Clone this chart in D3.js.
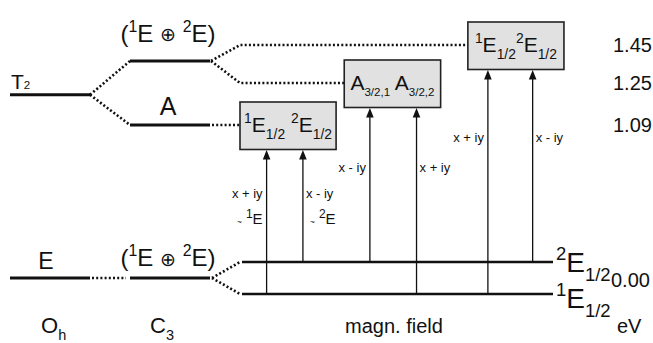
<!DOCTYPE html>
<html><head><meta charset="utf-8">
<script src="https://cdn.jsdelivr.net/npm/d3@7"></script>
<style>body{margin:0;background:#fff}svg{display:block}text{font-family:"Liberation Sans",Arial,sans-serif;fill:#111}</style>
</head><body><svg id="c" width="653" height="343"></svg>
<script>
// ---- data ----
const energyTicks = [1.45, 1.25, 1.09, 0.00];
const energyTickLabels = ["1.45", "1.25", "1.09", "0.00"];
const columns = ["Oh", "C3", "field"];
const columnLabels = [["O","h"], ["C","3"], ["magn. field",""]];
// levels: schematic energy (eV)
const ohLevels = [{name:"T2", e:1.205}, {name:"E", e:0.0}];
const c3Levels = [{name:"upper", e:1.366}, {name:"A", e:1.09}, {name:"E", e:0.0}];
const fieldLevelNames = ["2E1/2", "1E1/2"];
const fieldLevelEnergies = [0.1, -0.1];   // schematic Zeeman splitting
const boxEnergies = [1.09, 1.25, 1.45];
const boxLeft = [0.0, 0.333, 0.728];      // field units
const boxRight = [0.307, 0.641, 1.035];
const boxLabels = [
  [["1","sup"],["E"],["1/2","sub"],[" "],["2","sup"],["E"],["1/2","sub"]],
  [["A"],["3/2,1","sub2"],[" "],["A"],["3/2,2","sub2"]],
  [["1","sup"],["E"],["1/2","sub"],["2","sup"],["E"],["1/2","sub"]]
];
// transitions
const arrowPos = [0.085, 0.201, 0.415, 0.564, 0.792, 0.935];
const arrowFrom = [1, 0, 0, 1, 1, 0];
const arrowTo = [0, 0, 1, 1, 2, 2];
const arrowLabel = ["x + iy", "x - iy", "x - iy", "x + iy", "x + iy", "x - iy"];
const arrowSide = ["left", "right", "left", "right", "left", "right"];
const arrowLabelE = [0.56, 0.56, 0.75, 0.75, 0.967, 0.967];
const arrowExtra = ["1", "2", null, null, null, null];

// ---- scales ----
const svg = d3.select("#c");
const y = d3.scaleLinear().domain([-0.1, 0, 0.1, 1.09, 1.25, 1.45]).range([294, 278, 262, 125, 83, 45]);
const colX = d3.scaleOrdinal().domain(columns).range([[10, 90], [130, 210], [240, 553]]);
const fx = d3.scaleLinear().domain([0, 1]).range([240, 553]);

function rich(g, x, yy, parts, size, anchor) {
  const t = g.append("text").attr("x", x).attr("y", yy).attr("font-size", size).attr("text-anchor", anchor || "start");
  let off = 0;
  parts.forEach(p => {
    const k = p[1] || "n";
    let target = 0, fs = size;
    if (k === "sup") { target = -0.42 * size; fs = 0.66 * size; }
    if (k === "sup2") { target = -0.4 * size; fs = 0.8 * size; }
    if (k === "sub") { target = 0.32 * size; fs = 0.66 * size; }
    if (k === "sub2") { target = 0.3 * size; fs = 0.55 * size; }
    if (k === "base") { target = 0; fs = 0.55 * size; }
    if (k === "tilde") { target = 0.02 * size; fs = 0.55 * size; }
    if (k === "op") { target = -0.02 * size; fs = 0.8 * size; }
    t.append("tspan").attr("dy", target - off).attr("font-size", fs).text(p[0]);
    off = target;
  });
  return t;
}

const dotted = {stroke: "#111", "stroke-width": 2.6, "stroke-dasharray": "2,2.2", fill: "none"};
function dline(pts) {
  const p = svg.append("path").attr("d", d3.line()(pts));
  Object.entries(dotted).forEach(([k, v]) => p.attr(k, v));
}

// solid levels
const [ohA, ohB] = colX("Oh"), [c3A, c3B] = colX("C3"), [fA, fB] = colX("field");
ohLevels.forEach(l => svg.append("line").attr("x1", ohA).attr("x2", ohB).attr("y1", y(l.e)).attr("y2", y(l.e)).attr("stroke", "#111").attr("stroke-width", 3));
c3Levels.forEach(l => svg.append("line").attr("x1", c3A).attr("x2", c3B).attr("y1", y(l.e)).attr("y2", y(l.e)).attr("stroke", "#111").attr("stroke-width", 3));
fieldLevelEnergies.forEach(e => svg.append("line").attr("x1", fA + 2).attr("x2", fB).attr("y1", y(e)).attr("y2", y(e)).attr("stroke", "#111").attr("stroke-width", 2.6));

// dotted correlation lines
dline([[ohB, y(ohLevels[0].e)], [c3A, y(c3Levels[0].e)]]);
dline([[ohB, y(ohLevels[0].e)], [c3A, y(c3Levels[1].e)]]);
dline([[ohB + 2, y(0)], [c3A - 4, y(0)]]);
dline([[c3B + 1, y(c3Levels[0].e)], [fA, y(1.45)], [fx(boxLeft[2]), y(1.45)]]);
dline([[c3B + 1, y(c3Levels[0].e)], [fA, y(1.25)], [fx(boxLeft[1]), y(1.25)]]);
dline([[c3B + 2, y(c3Levels[1].e)], [fx(boxLeft[0]), y(1.09)]]);
dline([[c3B + 2, y(0)], [fA, y(fieldLevelEnergies[0])]]);
dline([[c3B + 2, y(0)], [fA, y(fieldLevelEnergies[1])]]);

// boxes
const boxTop = e => y(e) - 23, boxBot = e => y(e) + 24.5;
boxEnergies.forEach((e, i) => {
  svg.append("rect").attr("x", fx(boxLeft[i])).attr("y", boxTop(e))
    .attr("width", fx(boxRight[i]) - fx(boxLeft[i])).attr("height", boxBot(e) - boxTop(e))
    .attr("fill", "#e1e1e1").attr("stroke", "#222").attr("stroke-width", 1.6);
  const cx = (fx(boxLeft[i]) + fx(boxRight[i])) / 2;
  rich(svg, cx, y(e) + 7, boxLabels[i], 21, "middle");
});

// arrows
arrowPos.forEach((p, i) => {
  const x = fx(p);
  const y1 = y(fieldLevelEnergies[arrowFrom[i]]);
  const y2 = boxBot(boxEnergies[arrowTo[i]]);
  svg.append("line").attr("x1", x).attr("x2", x).attr("y1", y1).attr("y2", y2 + 8).attr("stroke", "#111").attr("stroke-width", 1.3);
  svg.append("path").attr("d", d3.line()([[x, y2 + 0.5], [x - 3.8, y2 + 10], [x + 3.8, y2 + 10]]) + "Z").attr("fill", "#111");
  const left = arrowSide[i] === "left";
  const lx = left ? x - 4 : x + 3;
  const ly = y(arrowLabelE[i]);
  svg.append("text").attr("x", lx).attr("y", ly).attr("font-size", 13).attr("text-anchor", left ? "end" : "start").text(arrowLabel[i]);
  if (arrowExtra[i]) {
    rich(svg, left ? lx : lx + 4, ly + 26, [["~", "tilde"], [" "], [arrowExtra[i], "sup2"], ["E"]], 15, left ? "end" : "start");
  }
});

// state labels
rich(svg, 11, y(ohLevels[0].e) - 6, [["T"], ["2", "base"]], 21);
rich(svg, 46, y(0) - 9, [["E"]], 23, "middle");
const c3Combo = [["("], ["1", "sup"], ["E"], [" "], ["\u2295", "op"], [" "], ["2", "sup"], ["E"], [")"]];
rich(svg, 168, y(c3Levels[0].e) - 19, c3Combo, 24, "middle");
rich(svg, 168, y(c3Levels[1].e) - 10, [["A"]], 25, "middle");
rich(svg, 168, y(0) - 12, c3Combo, 24, "middle");
rich(svg, 556, y(fieldLevelEnergies[0]) + 10, [["2", "sup"], ["E"], ["1/2", "sub"]], 28);
rich(svg, 556, y(fieldLevelEnergies[1]) + 14, [["1", "sup"], ["E"], ["1/2", "sub"]], 28);

// energy axis labels
energyTicks.forEach((e, i) => {
  svg.append("text").attr("x", e === 0 ? 611 : 613).attr("y", y(e) + (e === 0 ? 9 : 7)).attr("font-size", 20).text(energyTickLabels[i]);
});
svg.append("text").attr("x", 617).attr("y", 333).attr("font-size", 20).text("eV");

// column labels
rich(svg, 41, 333, [[columnLabels[0][0]], [columnLabels[0][1], "sub"]], 22);
rich(svg, 150, 333, [[columnLabels[1][0]], [columnLabels[1][1], "sub"]], 22);
svg.append("text").attr("x", 345).attr("y", 333).attr("font-size", 20).text(columnLabels[2][0]);
</script></body></html>
